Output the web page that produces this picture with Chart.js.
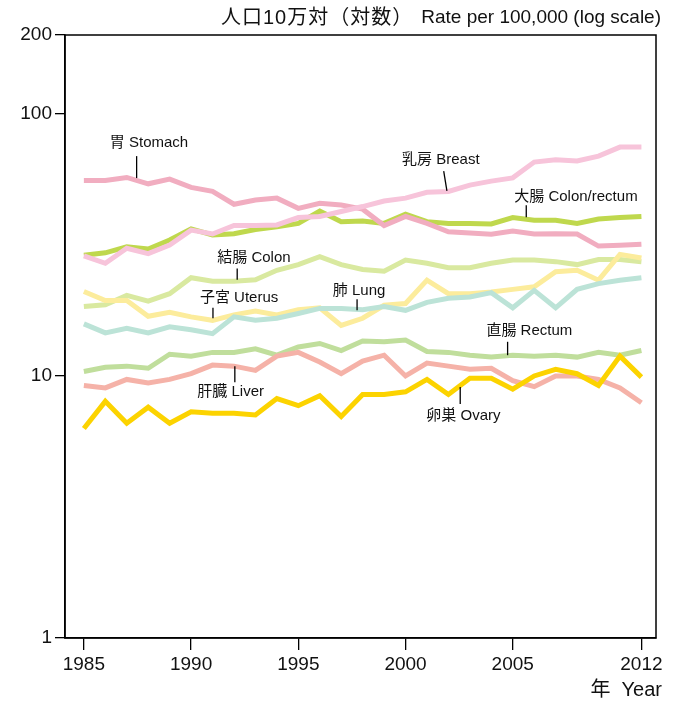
<!DOCTYPE html>
<html>
<head>
<meta charset="utf-8">
<script src="https://cdn.jsdelivr.net/npm/chart.js@4"></script>
<style>
  body { margin: 0; background: #fff; }
  #chart { display: block; }
</style>
</head>
<body>
<canvas id="chart" width="678" height="702"></canvas>
<script>
// years plotted (the last point is labelled 2012)
var years = [1985, 1986, 1987, 1988, 1989, 1990, 1991, 1992, 1993, 1994, 1995, 1996, 1997,
  1998, 1999, 2000, 2001, 2002, 2003, 2004, 2005, 2006, 2007, 2008, 2009, 2010, 2012];
var tickYears = [1985, 1990, 1995, 2000, 2005, 2012];
var yTicks = [1, 10, 100, 200];

var stomach = [55.7, 55.7, 57.2, 54.1, 56.4, 52.4, 50.6, 45.2, 46.9, 47.7, 43.6, 45.6, 44.9, 43.3,
  37.5, 40.6, 38.2, 35.5, 35.1, 34.7, 35.7, 34.8, 34.9, 34.8, 31.3, 31.5, 31.8];
var breast = [28.7, 26.9, 30.7, 29.3, 31.6, 36.0, 34.8, 37.5, 37.5, 37.7, 40.2, 40.6, 42.4, 44.3,
  46.5, 47.7, 50.2, 50.6, 53.5, 55.4, 57.0, 65.5, 66.8, 66.1, 69.0, 74.7, 74.7];
var colorectum = [28.9, 29.5, 31.1, 30.5, 33.0, 36.4, 34.5, 34.9, 36.2, 37.1, 38.2, 42.6, 38.8, 39.0,
  38.2, 41.4, 38.8, 38.2, 38.2, 38.0, 40.2, 39.3, 39.3, 38.2, 39.7, 40.2, 40.6];
var colon = [18.4, 18.7, 20.3, 19.3, 20.6, 23.7, 23.0, 23.0, 23.3, 25.3, 26.6, 28.5, 26.6, 25.5,
  25.1, 27.7, 26.9, 25.9, 25.9, 26.9, 27.7, 27.7, 27.3, 26.6, 27.8, 27.8, 27.3];
var uterus = [21.0, 19.4, 19.4, 16.9, 17.5, 16.8, 16.3, 17.1, 17.7, 17.1, 17.9, 18.2, 15.6, 16.6,
  18.6, 18.9, 23.2, 20.6, 20.6, 20.9, 21.4, 21.9, 25.0, 25.3, 23.2, 29.1, 28.2];
var lung = [15.8, 14.6, 15.2, 14.6, 15.4, 15.0, 14.5, 16.8, 16.3, 16.6, 17.3, 18.1, 18.1, 17.9,
  18.4, 17.8, 19.1, 19.8, 20.0, 20.8, 18.2, 21.2, 18.2, 21.4, 22.5, 23.2, 23.7];
var rectum = [10.4, 10.8, 10.9, 10.7, 12.1, 11.9, 12.3, 12.3, 12.7, 12.0, 12.9, 13.3, 12.5, 13.6,
  13.5, 13.7, 12.4, 12.3, 12.0, 11.8, 12.0, 11.9, 12.0, 11.8, 12.3, 12.0, 12.5];
var liver = [9.2, 9.0, 9.7, 9.4, 9.7, 10.2, 11.0, 10.9, 10.5, 11.9, 12.3, 11.3, 10.2, 11.4,
  12.0, 10.0, 11.2, 10.9, 10.6, 10.7, 9.6, 9.1, 10.0, 10.0, 9.7, 9.0, 7.9];
var ovary = [6.3, 8.0, 6.6, 7.6, 6.6, 7.3, 7.2, 7.2, 7.1, 8.2, 7.7, 8.4, 7.0, 8.5,
  8.5, 8.7, 9.7, 8.5, 9.8, 9.8, 8.9, 10.0, 10.6, 10.2, 9.2, 11.9, 9.9];

// series labels: text position and leader line, in data units (year index, rate)
var seriesLabels = [
  { text: "胃 Stomach", tx: 1.21, ty: 77.4, lx1: 2.46, lx2: 2.46, ly1: 69.0, ly2: 56.9 },
  { text: "乳房 Breast", tx: 14.84, ty: 66.8, lx1: 16.78, lx2: 16.93, ly1: 60.5, ly2: 50.8 },
  { text: "大腸 Colon/rectum", tx: 20.07, ty: 48.1, lx1: 20.63, lx2: 20.63, ly1: 44.8, ly2: 40.3 },
  { text: "結腸 Colon", tx: 6.22, ty: 28.2, lx1: 7.15, lx2: 7.15, ly1: 25.7, ly2: 23.3 },
  { text: "子宮 Uterus", tx: 5.41, ty: 19.9, lx1: 6.02, lx2: 6.02, ly1: 18.2, ly2: 16.6 },
  { text: "肺 Lung", tx: 11.61, ty: 21.2, lx1: 12.74, lx2: 12.74, ly1: 19.6, ly2: 17.8 },
  { text: "直腸 Rectum", tx: 18.77, ty: 14.9, lx1: 19.76, lx2: 19.76, ly1: 13.5, ly2: 12.0 },
  { text: "肝臓 Liver", tx: 5.29, ty: 8.66, lx1: 7.04, lx2: 7.04, ly1: 10.9, ly2: 9.46 },
  { text: "卵巣 Ovary", tx: 15.97, ty: 7.05, lx1: 17.55, lx2: 17.55, ly1: 9.08, ly2: 7.81 }
];

var FONT = '"Liberation Sans", "Noto Sans CJK JP", sans-serif';

function pts(values) {
  return values.map(function (v, i) {
    return { x: i, y: v };
  });
}

function line(label, values, color, width) {
  return {
    label: label,
    data: pts(values),
    borderColor: color,
    backgroundColor: color,
    borderWidth: width || 5,
    pointRadius: 0,
    tension: 0,
    fill: false
  };
}

var labelPlugin = {
  id: "labels",
  afterDraw: function (chart) {
    var ctx = chart.ctx;
    var x = chart.scales.x, y = chart.scales.y;
    var area = chart.chartArea;
    ctx.save();
    // frame
    ctx.strokeStyle = "#000";
    ctx.lineWidth = 1.5;
    ctx.strokeRect(area.left, area.top, area.right - area.left, area.bottom - area.top);
    ctx.fillStyle = "#111";
    ctx.font = "15px " + FONT;
    ctx.textBaseline = "middle";
    ctx.textAlign = "left";
    ctx.lineWidth = 1.3;
    seriesLabels.forEach(function (l) {
      ctx.fillText(l.text, x.getPixelForValue(l.tx), y.getPixelForValue(l.ty));
      ctx.beginPath();
      ctx.moveTo(x.getPixelForValue(l.lx1), y.getPixelForValue(l.ly1));
      ctx.lineTo(x.getPixelForValue(l.lx2), y.getPixelForValue(l.ly2));
      ctx.stroke();
    });
    // axis titles
    ctx.textAlign = "right";
    ctx.font = "19px " + FONT;
    var en = "Rate per 100,000 (log scale)";
    ctx.fillText(en, 661, 18);
    var enW = ctx.measureText(en).width;
    ctx.font = "20px " + FONT;
    ctx.letterSpacing = "1px";
    ctx.fillText("人口10万対（対数）", 661 - enW - 8, 18);
    ctx.letterSpacing = "0px";
    ctx.font = "20px " + FONT;
    ctx.fillText("年  Year", 662, 690);
    ctx.restore();
  }
};

var ctx = document.getElementById("chart");
var myChart = new Chart(ctx, {
  type: "line",
  data: {
    datasets: [
      line("卵巣 Ovary", ovary, "#fcd300"),
      line("乳房 Breast", breast, "#f7c4da"),
      line("肺 Lung", lung, "#bce3d7"),
      line("子宮 Uterus", uterus, "#fcec9c"),
      line("肝臓 Liver", liver, "#f5b2a8"),
      line("胃 Stomach", stomach, "#f1adc0"),
      line("大腸 Colon/rectum", colorectum, "#bfd84d"),
      line("結腸 Colon", colon, "#d9e9a0"),
      line("直腸 Rectum", rectum, "#c0de9c")
    ]
  },
  options: {
    responsive: false,
    animation: false,
    devicePixelRatio: 1,
    layout: { padding: { left: 0, right: 22, top: 35, bottom: 0 } },
    plugins: {
      legend: { display: false },
      tooltip: { enabled: false }
    },
    scales: {
      x: {
        type: "linear",
        min: -0.88,
        max: 26.68,
        afterBuildTicks: function (scale) {
          scale.ticks = tickYears.map(function (yr) {
            return { value: years.indexOf(yr) };
          });
        },
        afterFit: function (scale) {
          scale.height = 64;
        },
        ticks: {
          autoSkip: false,
          maxRotation: 0,
          padding: 3,
          color: "#111",
          font: { family: FONT, size: 19 },
          callback: function (value) {
            return String(years[Math.round(value)]);
          }
        },
        grid: {
          drawOnChartArea: false,
          drawTicks: true,
          tickLength: 12,
          color: "#000",
          lineWidth: 1.3
        },
        border: { display: true, color: "#000", width: 1.5 }
      },
      y: {
        type: "logarithmic",
        min: 1,
        max: 200,
        afterBuildTicks: function (scale) {
          scale.ticks = yTicks.map(function (v) {
            return { value: v };
          });
        },
        afterFit: function (scale) {
          scale.width = 65;
        },
        ticks: {
          autoSkip: false,
          padding: 3,
          color: "#111",
          font: { family: FONT, size: 19 },
          callback: function (value) {
            return String(value);
          }
        },
        grid: {
          drawOnChartArea: false,
          drawTicks: true,
          tickLength: 10,
          color: "#000",
          lineWidth: 1.3
        },
        border: { display: true, color: "#000", width: 1.5 }
      }
    }
  },
  plugins: [labelPlugin]
});
</script>
</body>
</html>
